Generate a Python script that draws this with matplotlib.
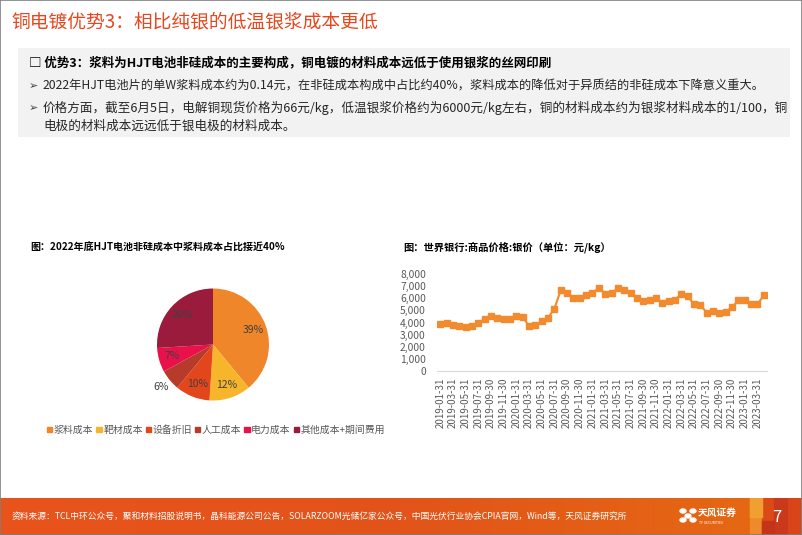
import matplotlib
matplotlib.use("Agg")
import matplotlib.pyplot as plt
import matplotlib.patches as mpatches
from matplotlib.colors import LinearSegmentedColormap
import numpy as np
import pandas as pd

plt.rcParams['font.family'] = ['Noto Sans CJK SC', 'DejaVu Sans']

W, H = 802, 535

# ---- data ----
pie_labels = ["浆料成本", "靶材成本", "设备折旧", "人工成本", "电力成本", "其他成本+期间费用"]
pie_values = [39, 12, 10, 6, 7, 26]
pie_colors = ["#F0862A", "#F7B52C", "#E4461C", "#B83A2A", "#E8114A", "#9B1B3C"]

silver_dates = pd.date_range("2019-01-31", periods=52, freq="ME").strftime("%Y-%m-%d")
silver_price = [3900, 3990, 3820, 3740, 3630, 3740, 3930, 4320, 4540, 4400,
                4290, 4290, 4510, 4460, 3710, 3800, 4100, 4400, 5150, 6680,
                6450, 6040, 6040, 6260, 6480, 6840, 6400, 6430, 6840, 6700,
                6430, 6010, 5820, 5870, 6070, 5620, 5790, 5900, 6340, 6180,
                5510, 5460, 4820, 4960, 4760, 4880, 5260, 5840, 5900, 5510,
                5510, 6260]

title = "铜电镀优势3：相比纯银的低温银浆成本更低"
box_head = "□ 优势3：浆料为HJT电池非硅成本的主要构成，铜电镀的材料成本远低于使用银浆的丝网印刷"
bullet1 = "2022年HJT电池片的单W浆料成本约为0.14元，在非硅成本构成中占比约40%，浆料成本的降低对于异质结的非硅成本下降意义重大。"
bullet2a = "价格方面，截至6月5日，电解铜现货价格为66元/kg，低温银浆价格约为6000元/kg左右，铜的材料成本约为银浆材料成本的1/100，铜"
bullet2b = "电极的材料成本远远低于银电极的材料成本。"
pie_title = "图：2022年底HJT电池非硅成本中浆料成本占比接近40%"
line_title = "图：世界银行:商品价格:银价（单位：元/kg）"
source = ("资料来源：TCL中环公众号，聚和材料招股说明书，晶科能源公司公告，SOLARZOOM光储亿家公众号，"
          "中国光伏行业协会CPIA官网，Wind等，天风证券研究所")


def fx(x):
    return x / W


def fy(y):
    return 1 - y / H


def px_axes(x0, y0, x1, y1):
    return [fx(x0), fy(y1), (x1 - x0) / W, (y1 - y0) / H]


fig = plt.figure(figsize=(W / 100, H / 100), dpi=100)

# slide frame
fig.patches.append(mpatches.Rectangle((0, 0), 1, 1, transform=fig.transFigure,
                                      fill=False, edgecolor="#7F7F7F", linewidth=1.2))

# title
fig.text(fx(11), fy(22), title, color="#E5471E", fontsize=13.5, va="center", ha="left")

# grey text box
fig.patches.append(mpatches.Rectangle((fx(18), fy(137)), (790 - 18) / W, (137 - 48) / H,
                                      transform=fig.transFigure, facecolor="#F2F2F2",
                                      edgecolor="none"))
fig.text(fx(29), fy(63), box_head, fontsize=9, fontweight="bold", va="center", color="#000000")
fig.text(fx(43), fy(86), bullet1, fontsize=8.8, va="center", color="#262626")
fig.text(fx(43), fy(108), bullet2a, fontsize=9.05, va="center", color="#262626")
fig.text(fx(43), fy(126), bullet2b, fontsize=9.05, va="center", color="#262626")
for yy in [86, 108]:
    fig.text(fx(29), fy(yy), "➢", fontsize=8, va="center", color="#404040",
             family=["DejaVu Sans"])

# ---- pie chart ----
fig.text(fx(30), fy(247), pie_title, fontsize=7.2, fontweight="bold", va="center")
cx, cy, r = 213, 344.5, 56
ax_pie = fig.add_axes(px_axes(cx - 1.25 * r, cy - 1.25 * r, cx + 1.25 * r, cy + 1.25 * r))
wedges, _, autotexts = ax_pie.pie(pie_values, colors=pie_colors, startangle=90, counterclock=False,
                                  autopct="%d%%", pctdistance=0.76,
                                  textprops=dict(fontsize=7.5, color="#404040"))
# the small 6% slice gets its label outside
w6 = wedges[3]
mid = np.deg2rad((w6.theta1 + w6.theta2) / 2)
autotexts[3].set_position((1.2 * np.cos(mid), 1.2 * np.sin(mid)))

handles = [mpatches.Patch(color=c, label=l) for c, l in zip(pie_colors, pie_labels)]
fig.legend(handles=handles, loc="center", bbox_to_anchor=(fx(216), fy(430)), ncol=6,
           frameon=False, fontsize=7.1, handlelength=0.55, handleheight=0.55,
           handletextpad=0.15, columnspacing=0.3, labelcolor="#595959")

# ---- line chart ----
fig.text(fx(403), fy(247), line_title, fontsize=7.4, fontweight="bold", va="center")
ax = fig.add_axes(px_axes(437, 274.3, 767, 370.7))
x = np.arange(len(silver_price))
ax.plot(x, silver_price, color="#F28A2E", linewidth=1.5, marker="s", markersize=4.2)
ax.set_xlim(-0.5, len(x) - 0.5)
ax.set_ylim(0, 8000)
ax.set_yticks(range(0, 8001, 1000))
ax.set_yticklabels([f"{v:,}" for v in range(0, 8001, 1000)])
ax.set_xticks(x[::2])
ax.set_xticklabels(silver_dates[::2], rotation=90)
ax.tick_params(axis="both", length=0, labelsize=7, labelcolor="#595959")
ax.tick_params(axis="y", labelsize=7.4, pad=8)
ax.tick_params(axis="x", pad=5)
for s in ["top", "right", "left"]:
    ax.spines[s].set_visible(False)
ax.spines["bottom"].set_color("#D9D9D9")

# ---- footer ----
ax_f = fig.add_axes(px_axes(0, 498, W, H))
grad = np.linspace(0, 1, 256).reshape(1, -1)
cmap = LinearSegmentedColormap.from_list("ft", ["#E8531C", "#E2541A", "#E66A12"])
ax_f.imshow(grad, aspect="auto", cmap=cmap, extent=(0, W, 0, 37))
# tiled right block
for (x0, c) in [(750, "#EE8A2A"), (762, "#DB4A16"), (774, "#C9391A"), (788, "#D94418")]:
    ax_f.add_patch(mpatches.Rectangle((x0, 0), 14, 37, color=c))
ax_f.add_patch(mpatches.Rectangle((750, 18), 12, 19, color="#F0A030"))
ax_f.add_patch(mpatches.Rectangle((762, 0), 12, 14, color="#C53418"))
ax_f.set_xlim(0, W)
ax_f.set_ylim(0, 37)
ax_f.axis("off")
fig.text(fx(12), fy(516), source, fontsize=6.3, color="white", va="center")
# logo
for dx, dy in [(-5, -5), (5, -5), (-5, 4), (5, 4), (0, 0)]:
    fig.patches.append(mpatches.Circle((fx(688 + dx), fy(516 + dy)), 3 / W,
                                       transform=fig.transFigure, color="white"))
fig.text(fx(698), fy(513), "天风证券", fontsize=7, color="white", va="center", fontweight="bold")
fig.text(fx(699), fy(523), "TF SECURITIES", fontsize=2.5, color="white", va="center")
fig.text(fx(777), fy(517), "7", fontsize=12, color="white", va="center", ha="center")

fig.savefig("out.png", dpi=100)
